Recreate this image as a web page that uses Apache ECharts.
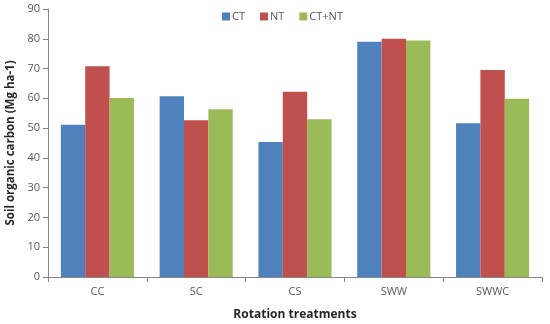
<!DOCTYPE html>
<html><head><meta charset="utf-8">
<script src="https://cdn.jsdelivr.net/npm/echarts@6/dist/echarts.min.js"></script>
<style>html,body{margin:0;padding:0;background:#fff}#c{width:550px;height:324px}</style>
</head><body><div id="c"></div>
<script>
const categories = ['CC', 'SC', 'CS', 'SWW', 'SWWC'];
const ctValues = [51.1, 60.7, 45.3, 79, 51.6];
const ntValues = [70.8, 52.6, 62.2, 80, 69.5];
const ctntValues = [60.1, 56.3, 53, 79.4, 59.9];
const seriesNames = ['CT', 'NT', 'CT+NT'];
const colors = ['#4F81BD', '#C0504D', '#9BBB59'];
const font = '"Open Sans", "Liberation Sans", sans-serif';
const chart = echarts.init(document.getElementById('c'));
const data = [ctValues, ntValues, ctntValues];
chart.setOption({
  animation: false,
  color: colors,
  legend: {
    top: 9, left: 220, itemWidth: 8, itemHeight: 8, itemGap: 15,
    icon: 'rect', padding: [2, 2, 2, 2],
    textStyle: {fontFamily: font, fontSize: 11, color: '#595959', padding: [0,0,0,-3]},
    data: seriesNames
  },
  grid: {left: 48, right: 8, top: 9, bottom: 47, containLabel: false, outerBoundsMode: 'none'},
  xAxis: {
    type: 'category', data: categories,
    name: 'Rotation treatments', nameLocation: 'middle', nameGap: 32,
    nameTextStyle: {fontFamily: font, fontSize: 12, fontWeight: 'bold', color: '#262626'},
    axisLine: {lineStyle: {color: '#868686'}},
    axisTick: {show: true, length: 5, lineStyle: {color: '#868686'}, alignWithLabel: false},
    axisLabel: {fontFamily: font, fontSize: 11, color: '#595959', margin: 9}
  },
  yAxis: {
    type: 'value', min: 0, max: 90, interval: 10,
    name: 'Soil organic carbon (Mg ha-1)', nameLocation: 'middle', nameGap: 27,
    nameTextStyle: {fontFamily: font, fontSize: 11.5, fontWeight: 'bold', color: '#262626'},
    axisLine: {show: true, lineStyle: {color: '#868686'}},
    axisTick: {show: true, length: 5, lineStyle: {color: '#868686'}},
    splitLine: {show: false},
    axisLabel: {fontFamily: font, fontSize: 11, color: '#595959', margin: 8}
  },
  series: seriesNames.map((n, i) => ({
    name: n, type: 'bar', data: data[i],
    barGap: '0%', barCategoryGap: '26%',
    itemStyle: {color: colors[i]}
  }))
});
</script></body></html>
